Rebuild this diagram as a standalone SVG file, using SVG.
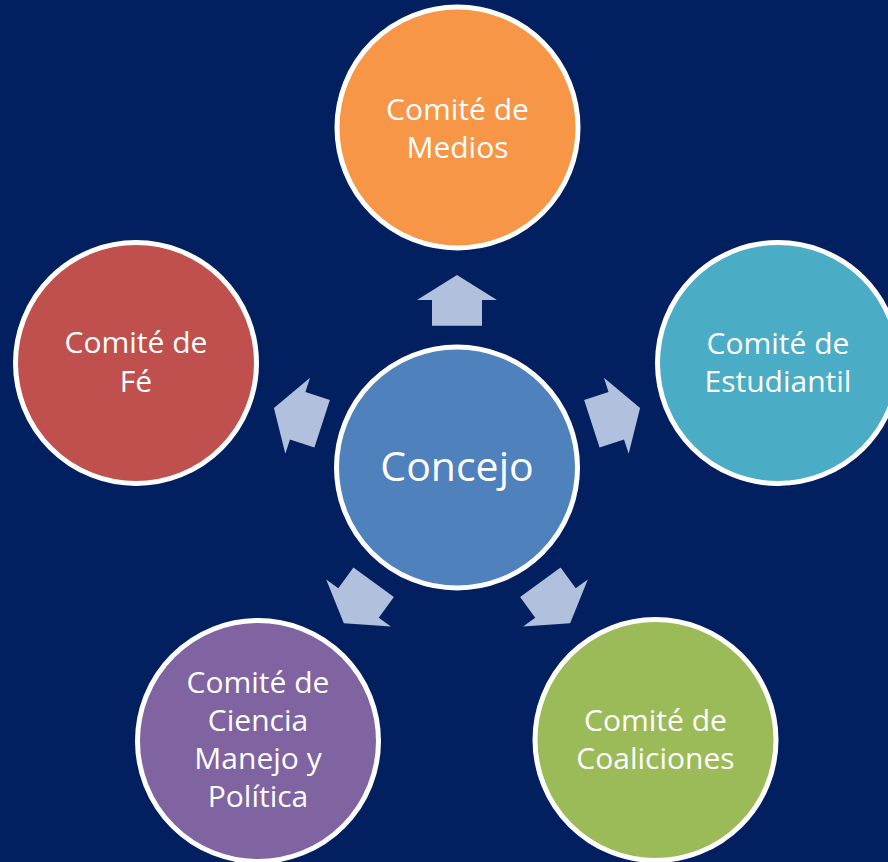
<svg xmlns="http://www.w3.org/2000/svg" width="888" height="862" viewBox="0 0 888 862">
<style>
.n{stroke:#FFFFFF;stroke-width:5}
.t{font-family:"Open Sans","Liberation Sans",sans-serif;font-size:30px;fill:#FFFFFF;text-anchor:middle}
.big{font-size:41px}
.a{fill:#B0C0DD}
</style>
<defs>
<path id="arr" d="M0,-192.5 L40,-167.5 L25,-167.5 L25,-141.8 L-25,-141.8 L-25,-167.5 L-40,-167.5 Z"/>
</defs>
<rect x="0" y="0" width="888" height="862" fill="#022060"/>
<g id="connectors" class="a" transform="translate(457,467.5)">
<use href="#arr"/>
<use href="#arr" transform="rotate(72)"/>
<use href="#arr" transform="rotate(144)"/>
<use href="#arr" transform="rotate(216)"/>
<use href="#arr" transform="rotate(288)"/>
</g>
<g id="concejo">
<circle class="n" cx="457" cy="467.5" r="120.5" fill="#4F81BD"/>
<text class="t big" x="457" y="481">Concejo</text>
</g>
<g id="medios">
<circle class="n" cx="457.5" cy="127.5" r="120.5" fill="#F79646"/>
<text class="t" x="457.5" y="120">Comité de</text>
<text class="t" x="457.5" y="158">Medios</text>
</g>
<g id="estudiantil">
<circle class="n" cx="778" cy="363" r="120.5" fill="#4BACC6"/>
<text class="t" x="778" y="354">Comité de</text>
<text class="t" x="778" y="392">Estudiantil</text>
</g>
<g id="coaliciones">
<circle class="n" cx="655.5" cy="740" r="120.5" fill="#9BBB59"/>
<text class="t" x="655.5" y="731">Comité de</text>
<text class="t" x="655.5" y="769">Coaliciones</text>
</g>
<g id="ciencia">
<circle class="n" cx="258" cy="741" r="120.5" fill="#8064A2"/>
<text class="t" x="258" y="693">Comité de</text>
<text class="t" x="258" y="731">Ciencia</text>
<text class="t" x="258" y="769">Manejo y</text>
<text class="t" x="258" y="807">Política</text>
</g>
<g id="fe">
<circle class="n" cx="136" cy="363" r="120.5" fill="#C0504D"/>
<text class="t" x="136" y="353">Comité de</text>
<text class="t" x="136" y="391.5">Fé</text>
</g>
</svg>
